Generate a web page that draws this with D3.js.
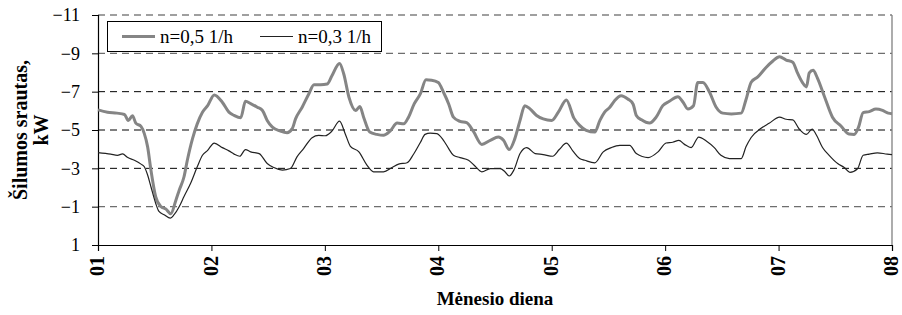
<!DOCTYPE html>
<html>
<head>
<meta charset="utf-8">
<script src="https://cdn.jsdelivr.net/npm/d3@7"></script>
<style>
  body { margin: 0; background: #fff; }
  svg text { font-family: "Liberation Serif", "Times New Roman", serif; fill: #000; }
</style>
</head>
<body>
<div id="chart"></div>
<script>
// Valandos nuo mėnesio pradžios (0..168) ir šilumos srautas, kW
const hoursA = [0, 2.0, 4.0, 5.6, 6.4, 7.3, 8.0, 9.1, 9.8, 10.5, 11.2, 12.2, 13.3, 14.4, 15.4, 16.5, 17.2, 18.2, 18.9, 20.0,
  21.0, 22.1, 23.2, 24.6, 26.3, 27.7, 28.8, 30.2, 31.2, 32.3, 33.7, 34.8, 35.8, 36.9, 38.6, 40.0, 41.1, 41.8, 43.2, 44.6,
  45.7, 47.1, 48.5, 49.5, 51.1, 52.0, 53.1, 54.5, 55.4, 56.2, 57.5, 59.0, 60.4, 61.8, 63.3, 64.7, 65.7, 66.9, 68.2, 69.4,
  70.6, 72.0, 73.1, 74.2, 75.2, 76.6, 78.0, 79.4, 81.2, 83.0, 84.7, 85.8, 87.0, 88.2, 89.3, 90.3, 91.4, 92.8, 94.2, 96.0,
  97.4, 99.1, 100.7, 101.9, 103.3, 105.1, 106.2, 107.2, 108.3, 109.3, 110.7, 112.1, 113.2, 113.9, 115.0, 116.7, 118.1, 119.5, 120.9, 122.7,
  123.8, 124.8, 126.0, 126.9, 128.0, 129.4, 130.8, 132.2, 134.0, 136.1, 137.1, 138.2, 139.6, 141.3, 142.8, 144.2, 145.6, 147.0, 148.0, 149.1,
  149.9, 150.5, 151.3, 152.2, 153.7, 155.4, 157.2, 158.9, 160.0, 160.9, 161.9, 163.2, 164.6, 166.0, 167.2, 168];
const valuesA = [-6.05, -5.93, -5.88, -5.81, -5.50, -5.74, -5.36, -5.19, -4.81, -4.12, -2.91, -1.53, -1.01, -0.87, -0.63, -1.35, -1.87, -2.56, -3.42, -4.55,
  -5.32, -5.93, -6.27, -6.83, -6.45, -5.93, -5.76, -5.64, -6.50, -6.38, -6.19, -6.02, -5.50, -5.15, -4.94, -4.86, -5.07, -5.58, -6.19, -6.88,
  -7.36, -7.36, -7.40, -7.83, -8.47, -7.92, -6.71, -6.02, -6.22, -5.67, -4.89, -4.77, -4.72, -4.94, -5.36, -5.32, -5.67, -6.36, -6.88, -7.62,
  -7.60, -7.48, -6.97, -6.36, -5.67, -5.45, -5.38, -4.94, -4.25, -4.46, -4.63, -4.46, -3.98, -4.55, -5.50, -6.27, -6.10, -5.76, -5.58, -5.50,
  -5.93, -6.57, -5.62, -5.24, -4.98, -4.89, -5.50, -5.93, -6.19, -6.53, -6.79, -6.62, -6.36, -5.76, -5.53, -5.36, -5.67, -6.27, -6.50, -6.74,
  -6.45, -6.10, -6.27, -7.48, -7.48, -6.97, -6.19, -5.88, -5.84, -5.88, -6.58, -7.49, -7.77, -8.25, -8.60, -8.82, -8.65, -8.54, -7.98, -7.46,
  -7.25, -7.98, -8.12, -7.72, -6.75, -5.67, -5.21, -4.79, -4.77, -5.14, -5.91, -5.96, -6.09, -6.02, -5.88, -5.85];

const hoursB = [0, 2.7, 4.1, 5.2, 6.3, 7.7, 9.1, 9.8, 10.5, 11.2, 12.2, 12.9, 14.0, 15.3, 16.1, 17.2, 18.2, 19.6, 21.0, 22.1,
  23.2, 24.6, 26.3, 27.7, 28.8, 30.0, 31.2, 32.3, 34.1, 35.8, 37.2, 39.0, 40.7, 42.1, 43.5, 45.3, 46.7, 48.1, 49.5, 51.1,
  52.3, 53.4, 55.2, 56.9, 58.3, 60.4, 62.2, 63.6, 65.4, 66.8, 68.2, 69.2, 70.3, 71.7, 73.1, 74.2, 75.2, 76.6, 78.4, 79.8,
  81.2, 83.0, 85.1, 86.1, 87.0, 88.0, 89.3, 90.7, 92.5, 94.2, 96.2, 97.6, 99.1, 100.5, 101.9, 103.0, 105.1, 106.9, 108.6, 110.4,
  112.5, 113.9, 116.4, 118.5, 120.2, 121.6, 122.9, 124.1, 125.5, 127.1, 128.7, 130.4, 131.8, 133.6, 136.1, 137.1, 138.2, 140.3, 142.0, 144.2,
  145.6, 147.0, 148.4, 149.9, 151.1, 152.0, 153.3, 154.7, 156.5, 157.9, 159.1, 160.7, 161.9, 163.2, 164.9, 167.0, 168];
const valuesB = [-3.82, -3.74, -3.68, -3.75, -3.56, -3.42, -3.22, -3.08, -2.65, -2.04, -1.18, -0.75, -0.58, -0.40, -0.58, -1.01, -1.53, -2.22, -3.08, -3.68,
  -3.94, -4.32, -4.08, -3.91, -3.74, -3.63, -3.98, -3.86, -3.77, -3.25, -3.04, -2.91, -2.99, -3.60, -4.03, -4.60, -4.72, -4.70, -4.94, -5.46,
  -4.81, -4.15, -3.86, -3.17, -2.82, -2.82, -3.04, -3.22, -3.29, -3.75, -4.35, -4.77, -4.84, -4.81, -4.46, -4.03, -3.68, -3.56, -3.42, -3.11,
  -2.82, -2.99, -2.99, -2.82, -2.60, -2.91, -3.77, -4.08, -3.77, -3.72, -3.63, -3.98, -4.32, -3.90, -3.51, -3.42, -3.29, -3.86, -4.08, -4.20,
  -4.20, -3.77, -3.56, -3.86, -4.32, -4.36, -4.46, -4.25, -4.08, -4.63, -4.43, -4.08, -3.68, -3.51, -3.51, -4.12, -4.61, -5.09, -5.35, -5.67,
  -5.56, -5.53, -5.04, -4.77, -5.05, -4.74, -4.09, -3.68, -3.25, -3.04, -2.79, -2.98, -3.68, -3.74, -3.81, -3.74, -3.72];

const dayLabels = ["01", "02", "03", "04", "05", "06", "07", "08"];
const yTicks = [1, -1, -3, -5, -7, -9, -11];
const gridValues = [-1, -3, -5, -7, -9];
const seriesNames = ["n=0,5 1/h", "n=0,3 1/h"];

const width = 902, height = 315;
const margin = { top: 15, right: 10, bottom: 70, left: 98 };

const svg = d3.select("#chart").append("svg")
    .attr("width", width)
    .attr("height", height);

const x = d3.scaleLinear().domain([0, 168]).range([margin.left, width - margin.right]);
const y = d3.scaleLinear().domain([1, -11]).range([height - margin.bottom, margin.top]);

// tinklelis: -9 ir -1 linijos šviesesnės, kaip originale
svg.append("g")
    .selectAll("line")
    .data(gridValues)
    .join("line")
    .attr("x1", x(0)).attr("x2", x(168))
    .attr("y1", d => y(d)).attr("y2", d => y(d))
    .attr("stroke", d => (d === -9 || d === -1) ? "#6e6e6e" : "#000")
    .attr("stroke-width", d => (d === -9 || d === -1) ? 1.4 : 1)
    .attr("stroke-dasharray", "7,5");

// viršutinis (brūkšninis) ir dešinysis rėmelis
svg.append("line")
    .attr("x1", x(0)).attr("x2", x(168))
    .attr("y1", y(-11)).attr("y2", y(-11))
    .attr("stroke", "#808080")
    .attr("stroke-width", 1.4)
    .attr("stroke-dasharray", "7,5");
svg.append("line")
    .attr("x1", x(168)).attr("x2", x(168))
    .attr("y1", y(-11)).attr("y2", y(1))
    .attr("stroke", "#808080")
    .attr("stroke-width", 1.3);

// ašys
const yAxis = svg.append("g")
    .attr("transform", `translate(${x(0)},0)`)
    .call(d3.axisLeft(y).tickValues(yTicks).tickSize(6).tickPadding(12).tickFormat(d3.format("d")));
yAxis.select(".domain").attr("stroke", "#000").attr("stroke-width", 1.2);
yAxis.selectAll("text")
    .style("font-family", "Liberation Serif")
    .style("font-size", "18px");

const xAxis = svg.append("g")
    .attr("transform", `translate(0,${y(1)})`)
    .call(d3.axisBottom(x).tickValues(d3.range(0, 169, 24)).tickSize(6).tickFormat((d, i) => dayLabels[i]));
xAxis.select(".domain").attr("stroke", "#000").attr("stroke-width", 1.2);
xAxis.selectAll("text")
    .style("font-family", "Liberation Serif")
    .style("font-size", "20px")
    .style("font-weight", "bold")
    .attr("transform", "rotate(-90)")
    .attr("text-anchor", "end")
    .attr("x", -11)
    .attr("y", 0)
    .attr("dy", "0.28em");

// kreivės
const line = d3.line()
    .x(d => x(d[0]))
    .y(d => y(d[1]))
    .curve(d3.curveMonotoneX);

svg.append("path")
    .datum(d3.zip(hoursA, valuesA))
    .attr("fill", "none")
    .attr("stroke", "#858585")
    .attr("stroke-width", 3)
    .attr("stroke-linejoin", "round")
    .attr("d", line);

svg.append("path")
    .datum(d3.zip(hoursB, valuesB))
    .attr("fill", "none")
    .attr("stroke", "#222")
    .attr("stroke-width", 1.2)
    .attr("stroke-linejoin", "round")
    .attr("d", line);

// legenda
const legend = svg.append("g");
legend.append("rect")
    .attr("x", 107.5).attr("y", 21.5)
    .attr("width", 274).attr("height", 30)
    .attr("fill", "#fff")
    .attr("stroke", "#000")
    .attr("stroke-width", 1);

const legendItems = [
  { name: seriesNames[0], x0: 122, color: "#858585", w: 3 },
  { name: seriesNames[1], x0: 260, color: "#222", w: 1.2 }
];
legendItems.forEach(it => {
  legend.append("line")
      .attr("x1", it.x0).attr("x2", it.x0 + 33)
      .attr("y1", 36.5).attr("y2", 36.5)
      .attr("stroke", it.color)
      .attr("stroke-width", it.w);
  legend.append("text")
      .attr("x", it.x0 + 38)
      .attr("y", 43)
      .style("font-size", "19px")
      .text(it.name);
});

// ašių pavadinimai
svg.append("text")
    .attr("x", (x(0) + x(168)) / 2)
    .attr("y", 305)
    .attr("text-anchor", "middle")
    .style("font-size", "19px")
    .style("font-weight", "bold")
    .text("Mėnesio diena");

const yTitle = svg.append("text")
    .attr("transform", `translate(27,${(y(1) + y(-11)) / 2}) rotate(-90)`)
    .attr("text-anchor", "middle")
    .style("font-size", "20px")
    .style("font-weight", "bold");
yTitle.append("tspan").attr("x", 0).attr("dy", 0).text("Šilumos srautas,");
yTitle.append("tspan").attr("x", 0).attr("dy", "1.05em").text("kW");
</script>
</body>
</html>
